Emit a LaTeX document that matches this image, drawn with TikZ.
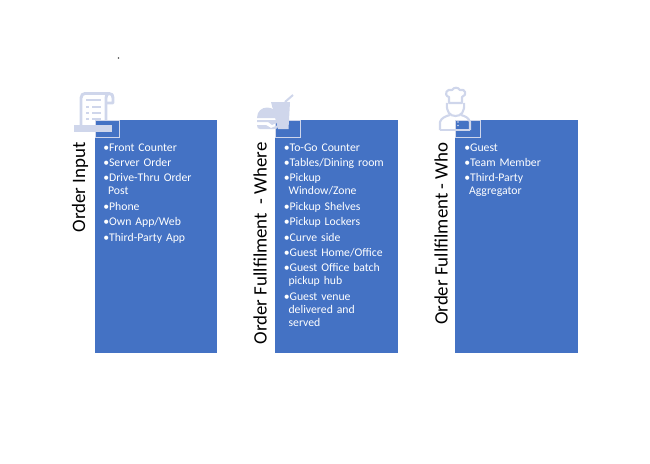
\documentclass[tikz,border=0pt]{standalone}
\usepackage{fontspec}
\setmainfont{Carlito}
\definecolor{panelblue}{HTML}{4472C4}
\definecolor{iconblue}{HTML}{CFD6EB}
\newcommand{\orderitem}[1]{\hangindent=3.6pt\hangafter=1\textbullet#1\par}
\begin{document}
\begin{tikzpicture}[x=0.75pt,y=-0.75pt]
            \tikzstyle{panel}=[fill=panelblue, draw=none, anchor=north west, inner sep=0pt, minimum width=92pt, minimum height=174.75pt]
            \tikzstyle{corner}=[draw=iconblue, line width=0.6pt, anchor=north west, inner sep=0pt, minimum width=18.5pt, minimum height=12.75pt]
            \tikzstyle{title}=[rotate=90, anchor=east, inner sep=0pt, font=\fontsize{14.2}{17}\selectfont, text=black]
            \tikzstyle{items}=[anchor=north west, inner sep=0pt, text=white, text width=88pt, align=left, font=\fontsize{8.8}{9.75}\selectfont\setlength{\parskip}{1.8pt}]
            \tikzstyle{icon}=[draw=iconblue, line width=2.2pt, line join=round]
            \tikzstyle{iconfill}=[fill=iconblue, draw=none]

            \useasboundingbox (0,0) rectangle (650,464);
            \node[circle, fill=black!70, inner sep=0pt, minimum size=1.2pt] (speck) at (118.5,58) {};

            % receipt, goes behind the panel
            \draw[icon] (81,126) -- (81,98) .. controls (81,95) and (83,93.5) .. (85,93.5) -- (109,93.5) .. controls (112,93.5) and (113,95) .. (113,98) -- (113,103) -- (106,103);
            \draw[icon] (106,126) -- (106,98) .. controls (106,95) and (107,93.5) .. (109,93.5);
            \draw[icon, line width=1pt] (86,100) -- (101,100);
            \draw[icon, line width=1pt] (86,107) -- (89,107) (92,107) -- (101,107);
            \draw[icon, line width=1pt] (86,113) -- (89,113) (92,113) -- (101,113);
            \draw[icon, line width=1pt] (86,119) -- (89,119) (92,119) -- (101,119);

            \node[panel] (input) at (94.5,120) {};
            \node[panel] (where) at (275,120) {};
            \node[panel] (who) at (455,120) {};

            \node[corner] (inputcorner) at (input.north west) {};
            \node[corner] (wherecorner) at (where.north west) {};
            \node[corner] (whocorner) at (who.north west) {};

            \node[title] (inputtitle) at (80,142) {Order Input};
            \node[title] (wheretitle) at (260,142) {Order Fullfilment\ \ - Where};
            \node[title] (whotitle) at (441,142) {Order Fullfilment - Who};

            \node[items] (inputitems) at (103,143.3) {\orderitem{Front Counter}\orderitem{Server Order}\orderitem{Drive-Thru Order\newline Post}\orderitem{Phone}\orderitem{Own App/Web}\orderitem{Third-Party App}};
            \node[items] (whereitems) at (283.5,143.3) {\orderitem{To-Go Counter}\orderitem{Tables/Dining room}\orderitem{Pickup\newline Window/Zone}\orderitem{Pickup Shelves}\orderitem{Pickup Lockers}\orderitem{Curve side}\orderitem{Guest Home/Office}\orderitem{Guest Office batch\newline pickup hub}\orderitem{Guest venue\newline delivered and\newline served}};
            \node[items] (whoitems) at (464,143.3) {\orderitem{Guest}\orderitem{Team Member}\orderitem{Third-Party\newline Aggregator}};

            % receipt base
            \fill[iconfill] (74,125) rectangle (112,131.5);

            % burger and cup
            \fill[iconfill] (271,102) -- (290,102) -- (288.5,129) -- (278,129) -- cycle;
            \draw[icon, line width=1.5pt] (285,102) -- (293,95);
            \fill[iconfill] (257,118) .. controls (257,104) and (277,104) .. (278,118) -- cycle;
            \fill[iconfill] (257,120) -- (278,120) -- (278,122) -- (272,125) -- (268,122) -- (257,122) -- cycle;
            \fill[iconfill] (257,125) -- (266,125) -- (271,128) -- (278,125) .. controls (278,129) and (276,129) .. (274,129) -- (260,129) .. controls (258,129) and (257,128) .. (257,125) -- cycle;

            % chef
            \draw[icon, line width=1.6pt] (449,103) -- (449,97) .. controls (443,95) and (447,88) .. (452,90) .. controls (454,87) and (458,87) .. (460,90) .. controls (465,88) and (468,95) .. (462,97) -- (462,103) -- cycle;
            \draw[icon, line width=1.6pt] (447,103) .. controls (446,112) and (450,116) .. (455.5,116) .. controls (461,116) and (465,112) .. (464,103);
            \draw[icon, line width=1.6pt] (440,130) -- (440,122) .. controls (441,118) and (446,116) .. (450,115) (461,115) .. controls (465,116) and (469,118) .. (470,122) -- (470,130);
            \draw[icon, line width=1.6pt] (440,130) -- (470,130);
            \fill[iconfill] (458,122) circle (0.8) (458,125.5) circle (0.8);
\end{tikzpicture}
\end{document}
